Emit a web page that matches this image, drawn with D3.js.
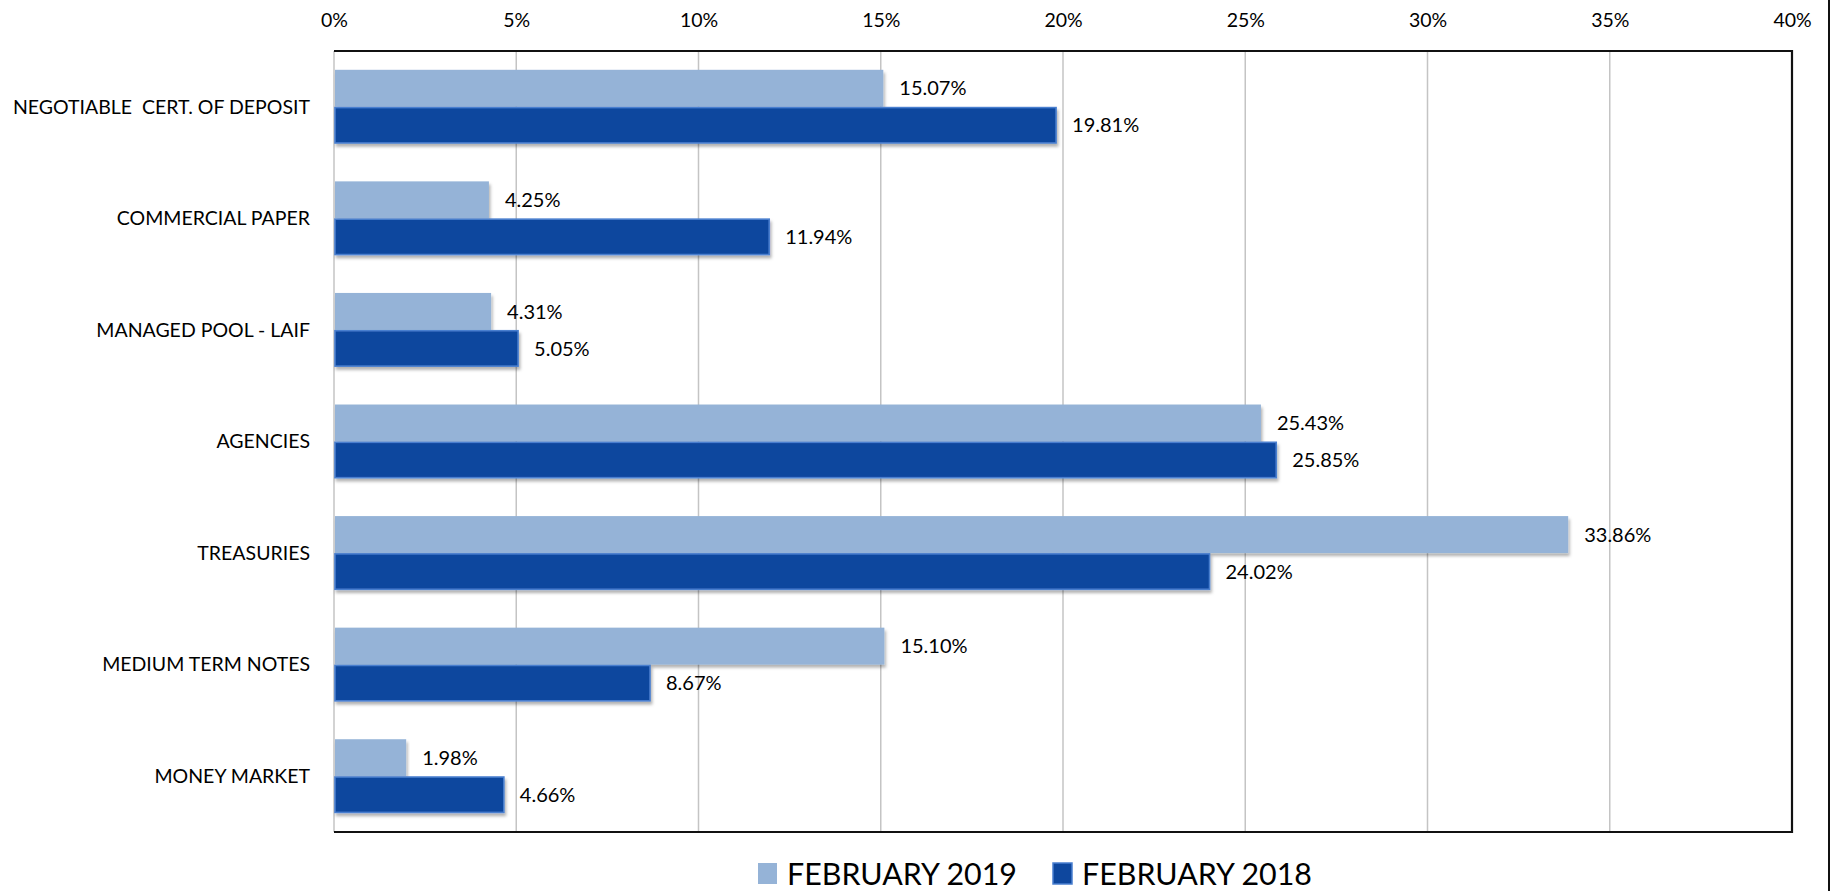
<!DOCTYPE html>
<meta charset="utf-8">
<style> /* set the CSS */

body { margin: 0; background: #fff; }
text { font-family: Lato, "Open Sans", sans-serif; fill: #000; }
.cat { font-size: 19.5px; white-space: pre; }
.tick text { font-size: 19.5px; }
.lbl { font-size: 20px; }
.leg { font-size: 30px; }

</style>
<body>

  <!-- load the d3.js library -->
  <script src="https://d3js.org/d3.v7.min.js"></script>
  <script>

    // the data
    var categories = ["NEGOTIABLE  CERT. OF DEPOSIT", "COMMERCIAL PAPER", "MANAGED POOL - LAIF",
      "AGENCIES", "TREASURIES", "MEDIUM TERM NOTES", "MONEY MARKET"];
    var seriesNames = ["FEBRUARY 2019", "FEBRUARY 2018"];
    var feb2019 = [15.07, 4.25, 4.31, 25.43, 33.86, 15.10, 1.98];
    var feb2018 = [19.81, 11.94, 5.05, 25.85, 24.02, 8.67, 4.66];
    var tickValues = [0, 5, 10, 15, 20, 25, 30, 35, 40];

    var colors = ["#95b3d7", "#0e479e"];

    // set the dimensions and margins of the graph
    var margin = {top: 51, right: 42, bottom: 59, left: 334},
    width = 1834 - margin.left - margin.right,
    height = 891 - margin.top - margin.bottom;

    // set the ranges
    var x = d3.scaleLinear()
    .domain([0, 40])
    .range([0, width]);
    var y = d3.scaleBand()
    .domain(categories)
    .range([0, height])
    .paddingInner(0.337)
    .paddingOuter(0.1685);
    var ySub = d3.scaleBand()
    .domain(seriesNames)
    .range([0, y.bandwidth()]);

    var svg0 = d3.select("body").append("svg")
    .attr("width", 1834)
    .attr("height", 891);

    // soft shadow under the bars
    var defs = svg0.append("defs");
    var f = defs.append("filter").attr("id", "shadow")
    .attr("x", "-5%").attr("y", "-20%").attr("width", "110%").attr("height", "150%");
    f.append("feDropShadow")
    .attr("dx", 1.5).attr("dy", 3).attr("stdDeviation", 1.8)
    .attr("flood-color", "#000").attr("flood-opacity", 0.3);

    var svg = svg0.append("g")
    .attr("transform", "translate(" + margin.left + "," + margin.top + ")");

    // gridlines
    svg.selectAll(".grid")
    .data(tickValues)
    .enter().append("line")
    .attr("class", "grid")
    .attr("x1", function(d) { return x(d); })
    .attr("x2", function(d) { return x(d); })
    .attr("y1", 0)
    .attr("y2", height)
    .attr("stroke", "#c4c4c4")
    .attr("stroke-width", 1.5);

    // x axis on top
    var xAxis = svg.append("g")
    .call(d3.axisTop(x).tickValues(tickValues).tickSize(0).tickPadding(24)
      .tickFormat(function(d) { return d + "%"; }));
    xAxis.select(".domain").remove();
    xAxis.selectAll("text").attr("fill", "#000").attr("font-family", null).attr("font-size", null);

    // plot frame: top, right, bottom
    svg.append("path")
    .attr("d", "M0,0H" + width + "V" + height + "H0")
    .attr("fill", "none")
    .attr("stroke", "#111")
    .attr("stroke-width", 2.2);

    // category labels
    svg.selectAll(".cat")
    .data(categories)
    .enter().append("text")
    .attr("class", "cat")
    .attr("x", -24)
    .attr("y", function(d) { return y(d) + y.bandwidth() / 2; })
    .attr("dy", "0.35em")
    .attr("text-anchor", "end")
    .text(function(d) { return d; });

    // bars
    var rows = categories.map(function(c, i) {
      return [{cat: c, s: seriesNames[0], v: feb2019[i], k: 0},
              {cat: c, s: seriesNames[1], v: feb2018[i], k: 1}];
    });
    var flat = [].concat.apply([], rows);

    svg.selectAll(".bar")
    .data(flat)
    .enter().append("rect")
    .attr("class", "bar")
    .attr("x", x(0) + 1)
    .attr("y", function(d) { return y(d.cat) + ySub(d.s) + (d.k ? 0.8 : 0); })
    .attr("width", function(d) { return x(d.v) - x(0) - 1; })
    .attr("height", function(d) { return ySub.bandwidth() - (d.k ? 1.6 : 0); })
    .attr("fill", function(d) { return colors[d.k]; })
    .attr("stroke", function(d) { return d.k ? "#4a7fcf" : "none"; })
    .attr("stroke-width", 1.6)
    .attr("filter", "url(#shadow)");

    // value labels
    svg.selectAll(".lbl")
    .data(flat)
    .enter().append("text")
    .attr("class", "lbl")
    .attr("x", function(d) { return x(d.v) + 16; })
    .attr("y", function(d) { return y(d.cat) + ySub(d.s) + ySub.bandwidth() / 2; })
    .attr("dy", "0.36em")
    .text(function(d) { return d.v.toFixed(2) + "%"; });

    // legend
    var legX = [758, 1053];
    var leg = svg0.selectAll(".legItem")
    .data(seriesNames)
    .enter().append("g")
    .attr("class", "legItem")
    .attr("transform", function(d, i) { return "translate(" + legX[i] + ",863)"; });
    leg.append("rect")
    .attr("width", 19)
    .attr("height", 21)
    .attr("fill", function(d, i) { return colors[i]; })
    .attr("stroke", function(d, i) { return i ? "#4a7fcf" : "none"; })
    .attr("stroke-width", 1.5);
    leg.append("text")
    .attr("class", "leg")
    .attr("x", 29)
    .attr("y", 22)
    .attr("textLength", 230)
    .attr("lengthAdjust", "spacingAndGlyphs")
    .text(function(d) { return d; });

    // outer chart edge on the right
    svg0.append("line")
    .attr("x1", 1829).attr("x2", 1829)
    .attr("y1", 0).attr("y2", 891)
    .attr("stroke", "#111")
    .attr("stroke-width", 2);

</script>
</body>
